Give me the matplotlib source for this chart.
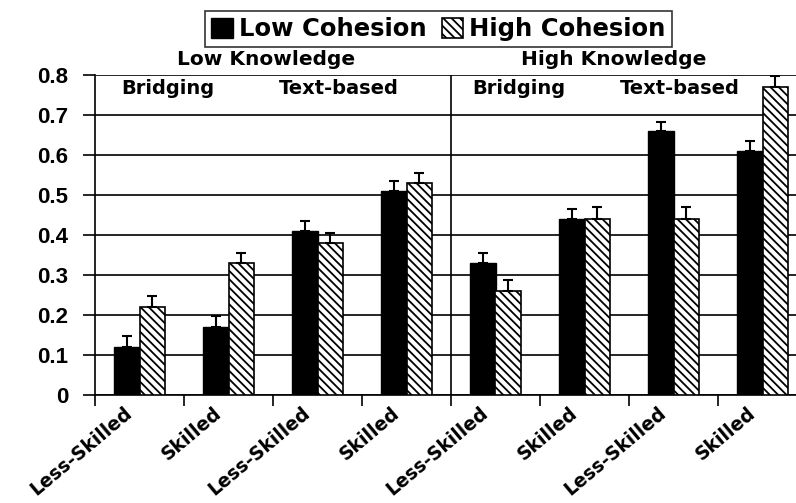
import numpy as np
import matplotlib
matplotlib.use("Agg")
import matplotlib.pyplot as plt
from matplotlib.transforms import ScaledTranslation

# bar groups, left to right
skill = ["Less-Skilled", "Skilled", "Less-Skilled", "Skilled",
         "Less-Skilled", "Skilled", "Less-Skilled", "Skilled"]
low_cohesion = [0.12, 0.17, 0.41, 0.51, 0.33, 0.44, 0.66, 0.61]
low_err = [0.027, 0.027, 0.025, 0.025, 0.025, 0.025, 0.022, 0.025]
high_cohesion = [0.22, 0.33, 0.38, 0.53, 0.26, 0.44, 0.44, 0.77]
high_err = [0.027, 0.025, 0.025, 0.025, 0.027, 0.03, 0.03, 0.028]
yticks = [0, 0.1, 0.2, 0.3, 0.4, 0.5, 0.6, 0.7, 0.8]
ytick_labels = ["0", "0.1", "0.2", "0.3", "0.4", "0.5", "0.6", "0.7", "0.8"]

plt.rcParams["font.family"] = "DejaVu Sans"
plt.rcParams["font.weight"] = "bold"
plt.rcParams["hatch.linewidth"] = 1.3


def main():
    fig = plt.figure(figsize=(7.96, 5.03), dpi=100)
    ax = fig.add_axes([95 / 796, 108 / 503, 712 / 796, 320 / 503])

    x = np.arange(len(skill))
    w = 0.29
    ekw = dict(ecolor="black", elinewidth=1.5, capthick=1.5)
    ax.bar(x - w / 2, low_cohesion, w, color="black", edgecolor="black",
           linewidth=1, label="Low Cohesion", zorder=3)
    ax.errorbar(x - w / 2, low_cohesion, yerr=[np.zeros(8), low_err],
                fmt="none", capsize=3.5, zorder=4, **ekw)
    ax.bar(x + w / 2, high_cohesion, w, color="white", edgecolor="black",
           hatch="\\\\\\\\", linewidth=1.2, label="High Cohesion", zorder=3)
    ax.errorbar(x + w / 2, high_cohesion, yerr=[np.zeros(8), high_err],
                fmt="none", capsize=3.5, zorder=4, **ekw)

    ax.set_xlim(-0.5, 7.5)
    ax.set_ylim(0, 0.8)
    ax.set_yticks(yticks)
    ax.set_yticklabels(ytick_labels, fontfamily="Liberation Sans",
                       fontsize=16, fontweight="bold")
    ax.yaxis.grid(True, color="black", linewidth=1.2, zorder=0)
    ax.set_axisbelow(True)
    ax.tick_params(axis="y", length=9, width=1.2, pad=10)

    ax.set_xticks(np.arange(-0.5, 8.0, 1.0))
    ax.set_xticklabels([])
    ax.tick_params(axis="x", which="major", length=8, width=1.2)
    ax.set_xticks(x, minor=True)
    ax.set_xticklabels(skill, minor=True, rotation=40, ha="right",
                       va="top", rotation_mode="anchor", fontsize=13.5)
    ax.tick_params(axis="x", which="minor", length=0, pad=6)
    off = ScaledTranslation(-16 / 100, 0, fig.dpi_scale_trans)
    for lab in ax.get_xticklabels(minor=True):
        lab.set_transform(lab.get_transform() + off)

    for s in ["top", "right"]:
        ax.spines[s].set_visible(False)
    ax.spines["left"].set_linewidth(1.2)
    ax.spines["bottom"].set_linewidth(1.2)
    ax.axvline(3.5, color="black", linewidth=1.2, zorder=2)

    # knowledge and question type headings
    ax.text(1.42, 0.838, "Low Knowledge", ha="center", va="center", fontsize=14.5)
    ax.text(5.33, 0.838, "High Knowledge", ha="center", va="center", fontsize=14.5)
    for xp, t in [(0.32, "Bridging"), (2.24, "Text-based"),
                  (4.26, "Bridging"), (6.07, "Text-based")]:
        ax.text(xp, 0.765, t, ha="center", va="center", fontsize=14)

    leg = fig.legend(loc="upper center", bbox_to_anchor=(0.551, 0.978), ncol=2,
                     fontsize=17.5, frameon=True, fancybox=False, edgecolor="black",
                     handlelength=0.9, handleheight=0.9, handletextpad=0.25,
                     columnspacing=0.6, borderpad=0.25, borderaxespad=0)
    leg.get_frame().set_linewidth(1.2)

    fig.savefig("out.png", dpi=100)


if __name__ == "__main__":
    main()
